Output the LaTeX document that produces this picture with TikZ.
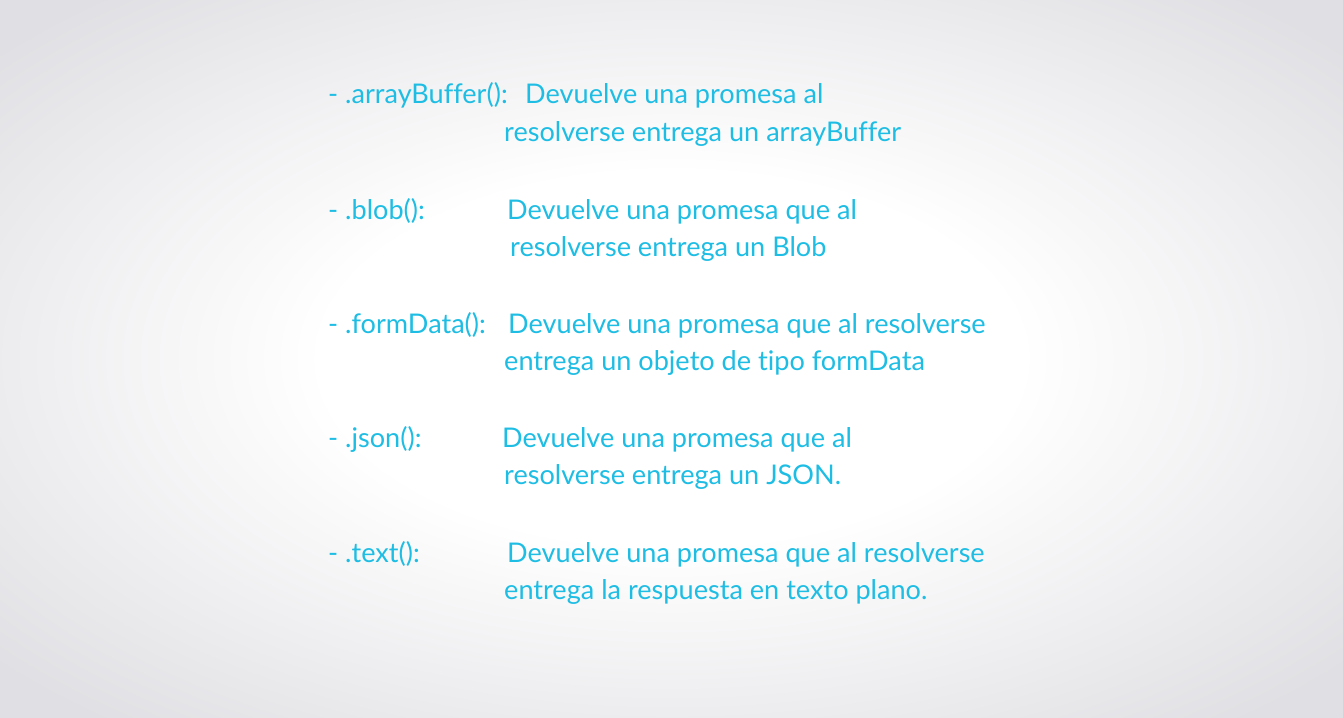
\documentclass[tikz,border=0pt]{standalone}
\usepackage{fontspec}
\setmainfont{Lato}[Ligatures={NoCommon}]
\definecolor{textcyan}{RGB}{29,189,228}
\definecolor{bgedge}{RGB}{224,223,227}
\pgfdeclareradialshading{slidebg}{\pgfpoint{0bp}{0bp}}{%
  color(0bp)=(white); color(13bp)=(white); color(33bp)=(bgedge); color(50bp)=(bgedge)}

\begin{document}
\begin{tikzpicture}[x=1bp, y=-1bp,
    method/.style={anchor=base west, inner sep=0pt, text=textcyan, font=\fontsize{27.2}{32}\selectfont},
    desc/.style={method}]
    % background
    \fill[shading=slidebg] (0,0) rectangle (1343,717);
    \useasboundingbox (0,0) rectangle (1343,717);
    \foreach \i/\method/\yy/\xa/\xb/\lineone/\linetwo in {
      1/{- .arrayBuffer():}/104/525/504/{Devuelve una promesa al}/{resolverse entrega un arrayBuffer},
      2/{- .blob():}/219/507/510/{Devuelve una promesa que al}/{resolverse entrega un Blob},
      3/{- .formData():}/333/508/504/{Devuelve una promesa que al resolverse}/{entrega un objeto de tipo formData},
      4/{- .json():}/447/502/504/{Devuelve una promesa que al}/{resolverse entrega un JSON.},
      5/{- .text():}/562/507/504/{Devuelve una promesa que al resolverse}/{entrega la respuesta en texto plano.}}{
      \node[method] (m\i) at (328,\yy) {\method};
      \node[desc] (d\i a) at (\xa,\yy) {\lineone};
      \node[desc] (d\i b) at (\xb,\yy+37) {\linetwo};
    }
\end{tikzpicture}
\end{document}
